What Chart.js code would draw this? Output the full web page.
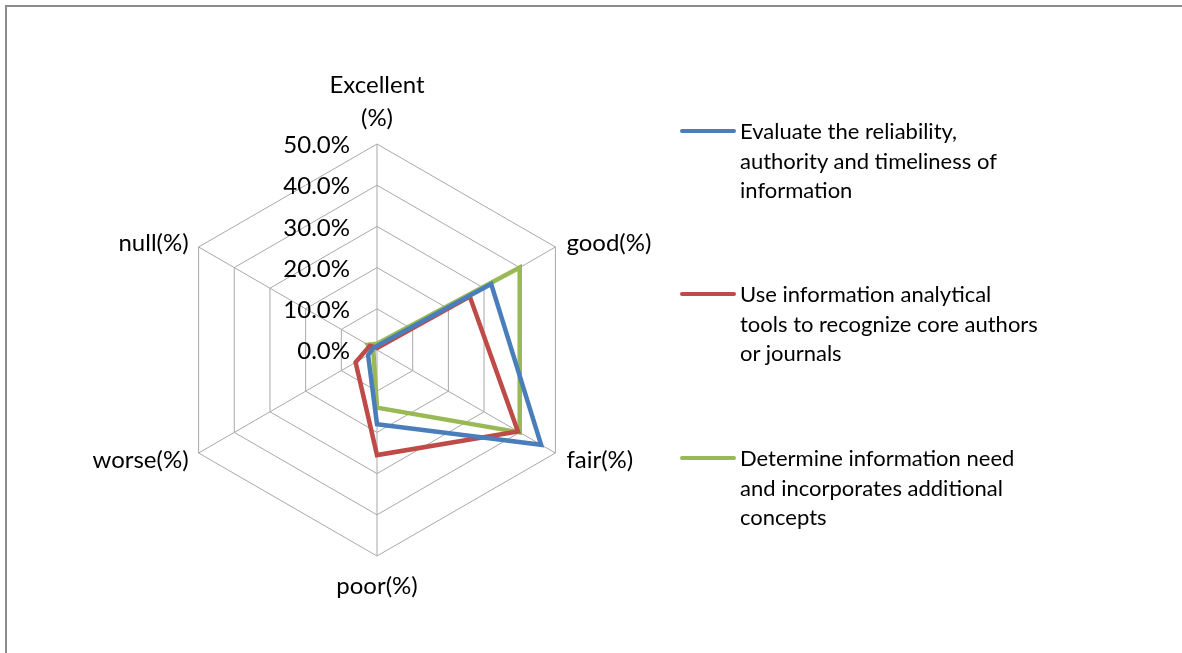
<!DOCTYPE html>
<html>
<head>
<meta charset="utf-8">
<script src="https://cdn.jsdelivr.net/npm/chart.js@4.4.1/dist/chart.umd.min.js"></script>
<style>
  body { margin: 0; background: #fff; font-family: Lato, "Open Sans", sans-serif; }
  #frame { position: absolute; left: 5px; top: 5px; width: 1200px; height: 700px;
           border-left: 2px solid #8c8c8c; border-top: 2px solid #8c8c8c; }
  #wrap { position: absolute; left: 0; top: 0; width: 1182px; height: 653px; }
  #legend { position: absolute; left: 680px; top: 0; }
  .item { position: absolute; left: 0; width: 340px; }
  .item .swatch { position: absolute; left: 0; top: 13px; width: 56px; height: 4px; border-radius: 2px; }
  .item .txt { position: absolute; left: 60px; top: 0; font-size: 22px; line-height: 29.6px; color: #000; white-space: nowrap; }
</style>
</head>
<body>
<div id="frame"></div>
<div id="wrap">
  <canvas id="radarChart" width="1182" height="653"></canvas>
</div>
<div id="legend"></div>
<script>
// axis categories (multi-line where the picture wraps)
const categories = [['Excellent', '(%)'], ['good(%)'], ['fair(%)'], ['poor(%)'], ['worse(%)'], ['null(%)']];

// radial ticks
const tickValues = [0, 10, 20, 30, 40, 50];
const tickLabels = ['0.0%', '10.0%', '20.0%', '30.0%', '40.0%', '50.0%'];

// series values, percent
const reliability = [1, 32, 46, 18, 2.5, 1];
const analytical = [0.5, 26, 39.5, 25.5, 6, 2];
const infoNeed = [1.5, 40, 40, 14, 1, 2.5];

const seriesNames = [
    ['Evaluate the reliability,', 'authority and timeliness of', 'information'],
    ['Use information analytical', 'tools to recognize core authors', 'or journals'],
    ['Determine information need', 'and incorporates additional', 'concepts']
];
const seriesColors = ['#4A7EBB', '#BE4B48', '#98B954'];

// draws tick labels left of the vertical axis and the axis names, like Excel does
const excelLabels = {
    id: 'excelLabels',
    afterDraw(chart) {
        const r = chart.scales.r;
        const ctx = chart.ctx;
        ctx.save();
        ctx.fillStyle = '#000';
        ctx.font = '24px Lato';
        ctx.textAlign = 'right';
        ctx.textBaseline = 'middle';
        tickValues.forEach((v, i) => {
            const y = r.yCenter - r.getDistanceFromCenterForValue(v);
            ctx.fillText(tickLabels[i], r.xCenter - 27, y + 1.5);
        });

        categories.forEach((lines, i) => {
            const p = r.getPointPosition(i, r.drawingArea);
            const dx = p.x - r.xCenter;
            const dy = p.y - r.yCenter;
            const shift = dy < 0 ? -4 : 7;
            if (Math.abs(dx) < 1) {
                ctx.textAlign = 'center';
                if (dy < 0) {
                    // above the top vertex
                    lines.forEach((t, k) => ctx.fillText(t, p.x, p.y - 59 + k * 33));
                } else {
                    lines.forEach((t, k) => ctx.fillText(t, p.x, p.y + 30 + k * 30));
                }
            } else if (dx > 0) {
                ctx.textAlign = 'left';
                lines.forEach((t, k) => ctx.fillText(t, p.x + 11, p.y + shift + k * 30));
            } else {
                ctx.textAlign = 'right';
                lines.forEach((t, k) => ctx.fillText(t, p.x - 10, p.y + shift + k * 30));
            }
        });
        ctx.restore();
    }
};

const ctx = document.getElementById('radarChart').getContext('2d');
const datasets = [reliability, analytical, infoNeed].map((vals, i) => ({
    label: seriesNames[i].join(' '),
    data: vals,
    borderColor: seriesColors[i],
    backgroundColor: 'transparent',
    borderWidth: 4.5,
    pointRadius: 0,
    pointHoverRadius: 0,
    fill: false,
    tension: 0
}));

new Chart(ctx, {
    type: 'radar',
    data: {
        labels: categories,
        datasets: datasets
    },
    options: {
        responsive: false,
        animation: false,
        layout: {
            padding: { left: 171, top: 144, right: 599, bottom: 97 }
        },
        scales: {
            r: {
                min: 0,
                max: 50,
                ticks: { stepSize: 10, display: false },
                pointLabels: { display: false },
                grid: { circular: false, color: '#a8a8a8', lineWidth: 1 },
                angleLines: { display: true, color: '#a8a8a8', lineWidth: 1 }
            }
        },
        plugins: {
            legend: { display: false },
            tooltip: { enabled: false }
        }
    },
    plugins: [excelLabels]
});

// legend to the right, built from the series arrays
const legend = document.getElementById('legend');
const legendTops = [116, 279, 443];
seriesNames.forEach((lines, i) => {
    const item = document.createElement('div');
    item.className = 'item';
    item.style.top = legendTops[i] + 'px';
    const sw = document.createElement('div');
    sw.className = 'swatch';
    sw.style.background = seriesColors[i];
    const txt = document.createElement('div');
    txt.className = 'txt';
    txt.innerHTML = lines.join('<br>');
    item.appendChild(sw);
    item.appendChild(txt);
    legend.appendChild(item);
});
</script>
</body>
</html>
